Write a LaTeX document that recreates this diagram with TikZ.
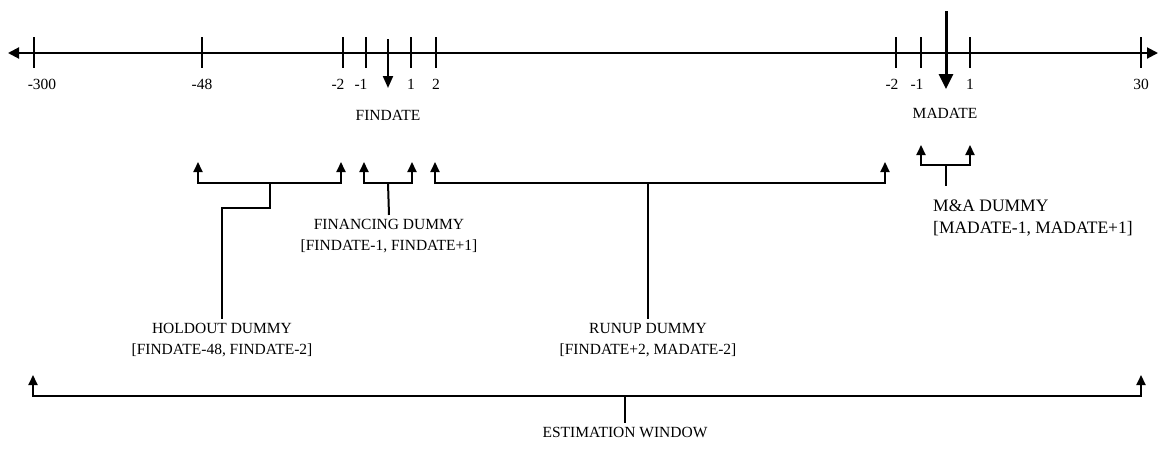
\documentclass[tikz,border=0pt]{standalone}
\usepackage{fontspec}
\setmainfont{Liberation Serif}
\usetikzlibrary{arrows.meta,positioning,calc}

\tikzset{
  axisline/.style={line width=2pt, {Triangle[length=11pt,width=11pt]}-{Triangle[length=11pt,width=11pt]}},
  tickmark/.style={line width=2pt},
  brace/.style={line width=2pt, {Triangle[length=10pt,width=9pt]}-{Triangle[length=10pt,width=9pt]}},
  stemline/.style={line width=2pt},
  lbl/.style={font=\fontsize{15.5}{21}\selectfont, inner sep=0pt},
  dummy/.style={lbl, align=center, inner sep=4pt}
}

\begin{document}
\begin{tikzpicture}[x=1pt, y=-1pt]
\useasboundingbox (0,0) rectangle (1159,453);

% ---------- time line
\coordinate (axL) at (8,53);
\coordinate (axR) at (1158,53);
\draw[axisline] (axL) -- (axR);
\foreach \x in {34,202,343,366,411,436,896,921,970,1141}{
  \draw[tickmark] (\x,37) -- (\x,68); }
\foreach \x/\t in {42/-300, 202/-48, 338/-2, 361/-1, 411/1, 436/2, 892/-2, 917/-1, 970/1, 1141/30}{
  \node[lbl] at (\x,84) {\t}; }

% ---------- event dates
\node[lbl] (fdate) at (388,115) {FINDATE};
\node[lbl] (mdate) at (945,113) {MADATE};
\coordinate (fdtop) at (388,39);
\coordinate (fdtip) at (388,88);
\coordinate (mdtop) at (946,11);
\coordinate (mdtip) at (946,89);
\draw[line width=2pt, -{Triangle[length=12pt,width=10pt]}] (fdtop) -- (fdtip);
\draw[line width=3pt, -{Triangle[length=15pt,width=14pt]}] (mdtop) -- (mdtip);

% ---------- holdout window
\coordinate (holdL) at (198,162);
\coordinate (holdR) at (341,162);
\coordinate (holdK) at (270,183);
\node[dummy] (hold) at (222,340) {HOLDOUT DUMMY\\{[}FINDATE-48, FINDATE-2{]}};
\draw[brace] (holdL) -- ++(0,21) -| (holdR);
\draw[stemline] (holdK) -- ++(0,25) -| (hold.north);

% ---------- financing window
\coordinate (finL) at (364,162);
\coordinate (finR) at (412,162);
\coordinate (finK) at (388,183);
\node[dummy] (fin) at (389,236) {FINANCING DUMMY\\{[}FINDATE-1, FINDATE+1{]}};
\draw[brace] (finL) -- ++(0,21) -| (finR);
\draw[stemline] (finK) -- (fin.north);

% ---------- runup window
\coordinate (runL) at (435,162);
\coordinate (runR) at (885,162);
\coordinate (runK) at (648,183);
\node[dummy] (run) at (648,340) {RUNUP DUMMY\\{[}FINDATE+2, MADATE-2{]}};
\draw[brace] (runL) -- ++(0,21) -| (runR);
\draw[stemline] (runK) -- (run.north);

% ---------- M&A window
\coordinate (maL) at (921,145);
\coordinate (maR) at (970,145);
\coordinate (maK) at (946,165);
\coordinate (maS) at (946,186);
\node[dummy, align=left, anchor=north west, font=\fontsize{17.5}{22}\selectfont] (ma) at (929,196) {M\&A DUMMY\\{[}MADATE-1, MADATE+1{]}};
\draw[brace] (maL) -- ++(0,20) -| (maR);
\draw[stemline] (maK) -- (maS);

% ---------- estimation window
\coordinate (estL) at (33,375);
\coordinate (estR) at (1141,375);
\coordinate (estK) at (625,396);
\node[dummy] (est) at (625,432) {ESTIMATION WINDOW};
\draw[brace] (estL) -- ++(0,21) -| (estR);
\draw[stemline] (estK) -- (est.north);

\end{tikzpicture}
\end{document}
